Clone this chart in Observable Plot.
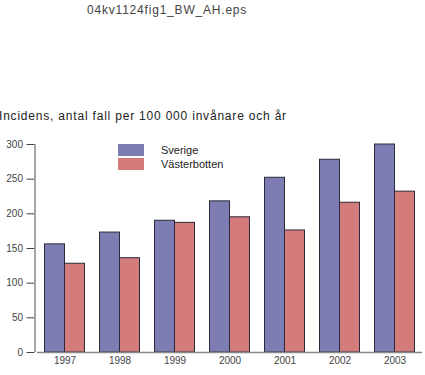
<!DOCTYPE html>
<html>
<head>
<meta charset="utf-8">
<script src="https://cdn.jsdelivr.net/npm/d3@7"></script>
<script src="https://cdn.jsdelivr.net/npm/@observablehq/plot@0.6"></script>
<style>
  html, body { margin: 0; padding: 0; background: #fff; }
  body { width: 425px; height: 375px; position: relative; overflow: hidden; font-family: "Liberation Sans", Arial, sans-serif; }
  #title { position: absolute; left: 87px; top: 3px; font-size: 12px; letter-spacing: 0.8px; color: #444; white-space: nowrap; }
  #subtitle { position: absolute; left: -1px; top: 109px; font-size: 12px; letter-spacing: 0.8px; color: #222; white-space: nowrap; }
  #chart { position: absolute; left: 0; top: 130px; }
  #legend { position: absolute; left: 118px; top: 143px; font-size: 11px; color: #222; }
  .item { display: flex; align-items: center; height: 14px; }
  .sw { width: 26px; height: 12px; margin-right: 17px; }
</style>
</head>
<body>
<div id="title">04kv1124fig1_BW_AH.eps</div>
<div id="subtitle">Incidens, antal fall per 100 000 invånare och år</div>
<div id="chart"></div>
<div id="legend"></div>
<script>
const years = ["1997", "1998", "1999", "2000", "2001", "2002", "2003"];
const seriesNames = ["Sverige", "Västerbotten"];
const sverige = [156, 173, 190, 218, 252, 278, 300];
const vasterbotten = [128, 136, 187, 195, 176, 216, 232];
const colors = ["#7d7db4", "#d47c7c"];
const yTicks = [0, 50, 100, 150, 200, 250, 300];

const data = [];
years.forEach((y, i) => {
  data.push({year: y, series: seriesNames[0], value: sverige[i]});
  data.push({year: y, series: seriesNames[1], value: vasterbotten[i]});
});

const baseStyle = {fontFamily: "Liberation Sans, Arial, sans-serif", fontSize: "10px", color: "#444", background: "transparent"};

const chart = Plot.plot({
  width: 425,
  height: 245,
  marginLeft: 34.5,
  marginRight: 1,
  marginTop: 14,
  marginBottom: 23,
  style: baseStyle,
  fx: {domain: years, padding: 0, label: null, tickSize: 0, tickPadding: 4},
  x: {domain: seriesNames, paddingInner: 0, paddingOuter: 0.32, axis: null},
  y: {domain: [0, 300], axis: null},
  color: {domain: seriesNames, range: colors},
  marks: [
    Plot.barY(data, {fx: "year", x: "series", y: "value", fill: "series", stroke: "#2a2a3a", strokeWidth: 1}),
    Plot.ruleY([0], {stroke: "#888", strokeWidth: 1.5})
  ]
});
document.getElementById("chart").appendChild(chart);

// y axis in an overlay plot sharing the same dimensions and y domain
const yAxisPlot = Plot.plot({
  width: 425, height: 245, marginLeft: 34.5, marginRight: 1, marginTop: 14, marginBottom: 23,
  style: baseStyle,
  x: {domain: [0, 1], axis: null},
  y: {domain: chart.scale("y").domain, ticks: yTicks, label: null, tickSize: 8, tickPadding: 4},
  marks: [
    Plot.ruleX([0], {stroke: "#888", strokeWidth: 1.5})
  ]
});
yAxisPlot.style.position = "absolute";
yAxisPlot.style.left = "0px";
yAxisPlot.style.top = "130px";
document.body.appendChild(yAxisPlot);

const legend = document.getElementById("legend");
seriesNames.forEach((s, i) => {
  const it = document.createElement("div");
  it.className = "item";
  const sw = document.createElement("div");
  sw.className = "sw";
  sw.style.background = colors[i];
  const t = document.createElement("span");
  t.textContent = s;
  it.appendChild(sw);
  it.appendChild(t);
  legend.appendChild(it);
});
</script>
</body>
</html>
